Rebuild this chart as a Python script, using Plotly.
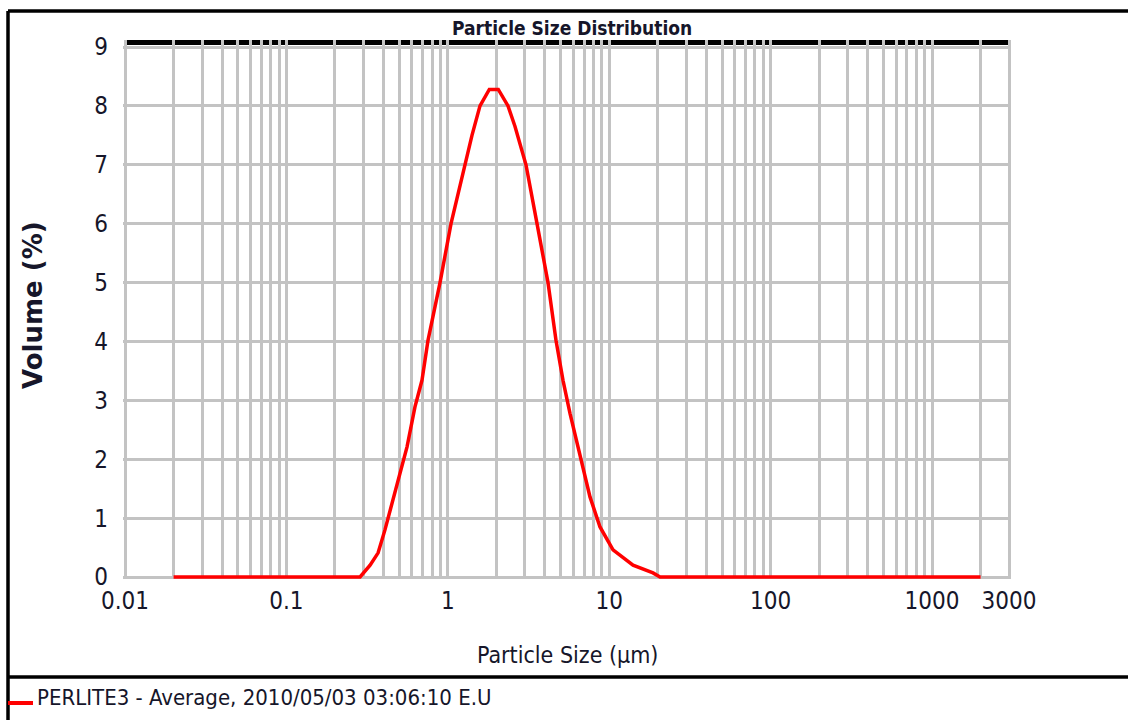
import plotly.graph_objects as go

# Particle size distribution (volume %) of PERLITE3, averaged measurement
size_um = [0.02, 0.286, 0.330, 0.370, 0.408, 0.451, 0.491, 0.559, 0.626, 0.692,
           0.754, 0.895, 1.047, 1.278, 1.412, 1.583, 1.742, 1.808, 2.055, 2.361,
           2.609, 3.051, 3.571, 4.177, 4.680, 5.174, 5.716, 6.592, 7.603, 8.770,
           10.56, 14.05, 18.68, 20.64, 2000]
volume_pct = [0, 0, 0.20, 0.41, 0.80, 1.26, 1.65, 2.21, 2.89, 3.34,
              4.02, 5.00, 6.00, 7.00, 7.50, 8.00, 8.21, 8.28, 8.28, 8.00,
              7.65, 7.00, 6.00, 5.00, 4.02, 3.34, 2.78, 2.04, 1.36, 0.85,
              0.46, 0.20, 0.07, 0, 0]

series_name = "PERLITE3 - Average, 2010/05/03 03:06:10 E.U"
chart_title = "Particle Size Distribution"
x_title = "Particle Size (µm)"
y_title = "Volume (%)"

# log grid: every 1..9 multiple of each decade, labelled at decades and at 3000
x_labels = {0.01: "0.01", 0.1: "0.1", 1: "1", 10: "10", 100: "100",
            1000: "1000", 3000: "3000"}
x_tickvals = []
for exp in range(-2, 4):
    for k in range(1, 10):
        v = round(k * 10 ** exp, 6)
        if v <= 3000:
            x_tickvals.append(v)
x_ticktext = [x_labels.get(v, "") for v in x_tickvals]
y_tickvals = list(range(0, 10))

W, H = 1128, 720
L, R, T, B = 123, 1011, 40, 579  # plot area in pixels


def px(xp):
    return (xp - L) / (R - L)


def py(yp):
    return (B - yp) / (B - T)


NARROW = "Liberation Sans Narrow, Arial Narrow, DejaVu Sans Condensed, sans-serif"
TXT = "#16162a"
GRID = "#c3c3c3"

fig = go.Figure()
fig.add_trace(go.Scatter(
    x=size_um, y=volume_pct, mode="lines", name=series_name,
    line=dict(color="#ff0000", width=3.5), showlegend=False,
))

fig.update_layout(
    width=W, height=H,
    margin=dict(l=L, r=W - R, t=T, b=H - B, pad=0),
    paper_bgcolor="white", plot_bgcolor="rgba(0,0,0,0)",
    xaxis=dict(
        type="log", range=[-2.0124, 3.4895],
        tickvals=x_tickvals, ticktext=x_ticktext,
        showgrid=True, gridcolor=GRID, gridwidth=3,
        zeroline=False, showline=False, ticks="",
        tickfont=dict(family=NARROW, size=24, color=TXT),
        ticklabelstandoff=5,
    ),
    yaxis=dict(
        range=[-0.034, 9.119], tickvals=y_tickvals,
        showgrid=True, gridcolor=GRID, gridwidth=3,
        zeroline=False, showline=False, ticks="",
        tickfont=dict(family=NARROW, size=24, color=TXT),
        ticklabelstandoff=14,
    ),
)

# heavy black band along the top of the grid (under the grid lines)
fig.add_shape(type="rect", xref="paper", yref="paper",
              x0=px(124), x1=px(1010), y0=py(45), y1=py(40),
              fillcolor="black", line=dict(width=0), layer="below")

# outer frame and legend separator
frame = dict(color="black", width=3.5)
fig.add_shape(type="line", xref="paper", yref="paper",
              x0=px(8), x1=px(1128), y0=py(11), y1=py(11), line=frame)
fig.add_shape(type="line", xref="paper", yref="paper",
              x0=px(8), x1=px(8), y0=py(11), y1=py(720), line=frame)
fig.add_shape(type="line", xref="paper", yref="paper",
              x0=px(8), x1=px(1128), y0=py(677), y1=py(677), line=frame)

# legend entry
fig.add_shape(type="line", xref="paper", yref="paper",
              x0=px(8), x1=px(33), y0=py(703), y1=py(703),
              line=dict(color="#ff0000", width=4))
fig.add_annotation(x=px(35), y=py(697), xref="paper", yref="paper",
                   text=series_name, showarrow=False, xanchor="left", yanchor="middle",
                   font=dict(family=NARROW, size=22, color=TXT))

# titles
fig.add_annotation(x=px(572), y=py(28), xref="paper", yref="paper",
                   text=chart_title, showarrow=False, xanchor="center", yanchor="middle",
                   font=dict(family=NARROW, size=19, color=TXT, weight=700))
fig.add_annotation(x=px(567), y=py(655), xref="paper", yref="paper",
                   text=x_title, showarrow=False, xanchor="center", yanchor="middle",
                   font=dict(family=NARROW, size=23, color=TXT))
fig.add_annotation(x=px(33), y=py(305), xref="paper", yref="paper",
                   text=y_title, showarrow=False, textangle=-90,
                   xanchor="center", yanchor="middle",
                   font=dict(family="DejaVu Sans, sans-serif", size=26, color=TXT,
                             weight=700))

fig.write_html("out.html")
